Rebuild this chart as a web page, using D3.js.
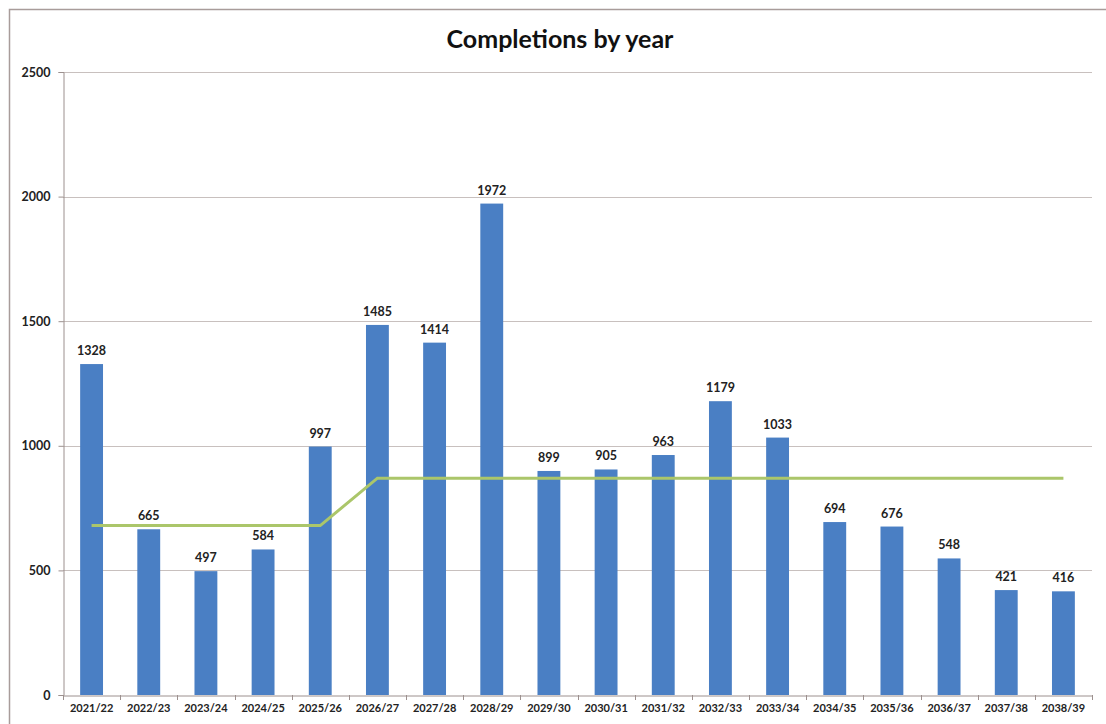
<!DOCTYPE html>
<html><head><meta charset="utf-8">
<script src="https://cdn.jsdelivr.net/npm/d3@7"></script>
<style>
html,body{margin:0;padding:0;background:#fff;}
svg{display:block;}
</style></head>
<body>
<svg id="chart" width="1106" height="724"></svg>
<script>
const categories = ["2021/22","2022/23","2023/24","2024/25","2025/26","2026/27","2027/28","2028/29","2029/30","2030/31","2031/32","2032/33","2033/34","2034/35","2035/36","2036/37","2037/38","2038/39"];
const completions = [1328,665,497,584,997,1485,1414,1972,899,905,963,1179,1033,694,676,548,421,416];
const requirement = [680,680,680,680,680,870,870,870,870,870,870,870,870,870,870,870,870,870];
const yTicks = [0,500,1000,1500,2000,2500];
const title = "Completions by year";

const font = "Lato, 'Open Sans', sans-serif";
const svg = d3.select("#chart");
const m = {left:63, right:1092, top:72, bottom:695};

svg.append("rect").attr("x",9.5).attr("y",9.5).attr("width",1120).attr("height",740)
  .attr("fill","#fff").attr("stroke","#a89c9a").attr("stroke-width",1.5);

const x = d3.scaleBand().domain(categories).range([m.left,m.right]).paddingInner(0.6).paddingOuter(0.3);
const y = d3.scaleLinear().domain([0,2500]).range([m.bottom,m.top]);

// gridlines
svg.append("g").selectAll("line").data(yTicks.filter(d=>d>0)).join("line")
  .attr("x1",m.left).attr("x2",m.right)
  .attr("y1",d=>Math.round(y(d))+0.5).attr("y2",d=>Math.round(y(d))+0.5)
  .attr("stroke","#c8c0be").attr("stroke-width",1);

// y axis
const yAxis = svg.append("g").attr("transform",`translate(${m.left+0.5},0)`)
  .call(d3.axisLeft(y).tickValues(yTicks).tickFormat(d3.format("d")).tickSize(5).tickPadding(8));
yAxis.select(".domain").attr("stroke","#9c908e");
yAxis.selectAll(".tick line").attr("stroke","#9c908e");
yAxis.selectAll("text").attr("font-family",font).attr("font-size",12.5).attr("font-weight","bold").attr("fill","#222");

// bars
svg.append("g").selectAll("rect").data(completions).join("rect")
  .attr("x",(d,i)=>x(categories[i]))
  .attr("width",x.bandwidth())
  .attr("y",d=>y(d))
  .attr("height",d=>m.bottom-y(d))
  .attr("fill","#4a7fc4");

// x axis
const xAxis = svg.append("g").attr("transform",`translate(0,${m.bottom+0.5})`)
  .call(d3.axisBottom(x).tickSize(0).tickPadding(9));
xAxis.select(".domain").attr("stroke","#9c908e");
xAxis.selectAll("text").attr("font-family",font).attr("font-size",11).attr("font-weight","bold").attr("fill","#222");
const bounds = d3.range(categories.length+1).map(i=>m.left + (m.right-m.left)*i/categories.length);
svg.append("g").selectAll("line").data(bounds).join("line")
  .attr("x1",d=>Math.round(d)+0.5).attr("x2",d=>Math.round(d)+0.5)
  .attr("y1",m.bottom).attr("y2",m.bottom+5).attr("stroke","#9c908e");

// requirement line
const line = d3.line().x((d,i)=>x(categories[i])+x.bandwidth()/2).y(d=>y(d));
svg.append("path").datum(requirement).attr("d",line)
  .attr("fill","none").attr("stroke","#abc66a").attr("stroke-width",3);

// data labels
svg.append("g").selectAll("text").data(completions).join("text")
  .attr("x",(d,i)=>x(categories[i])+x.bandwidth()/2)
  .attr("y",d=>y(d)-9)
  .attr("text-anchor","middle")
  .attr("font-family",font).attr("font-size",12.5).attr("font-weight","bold").attr("fill","#222")
  .text(d=>d);

// title
svg.append("text").attr("x",560).attr("y",48).attr("text-anchor","middle")
  .attr("font-family",font).attr("font-size",25).attr("font-weight","bold").attr("fill","#111")
  .text(title);
</script>
</body></html>
